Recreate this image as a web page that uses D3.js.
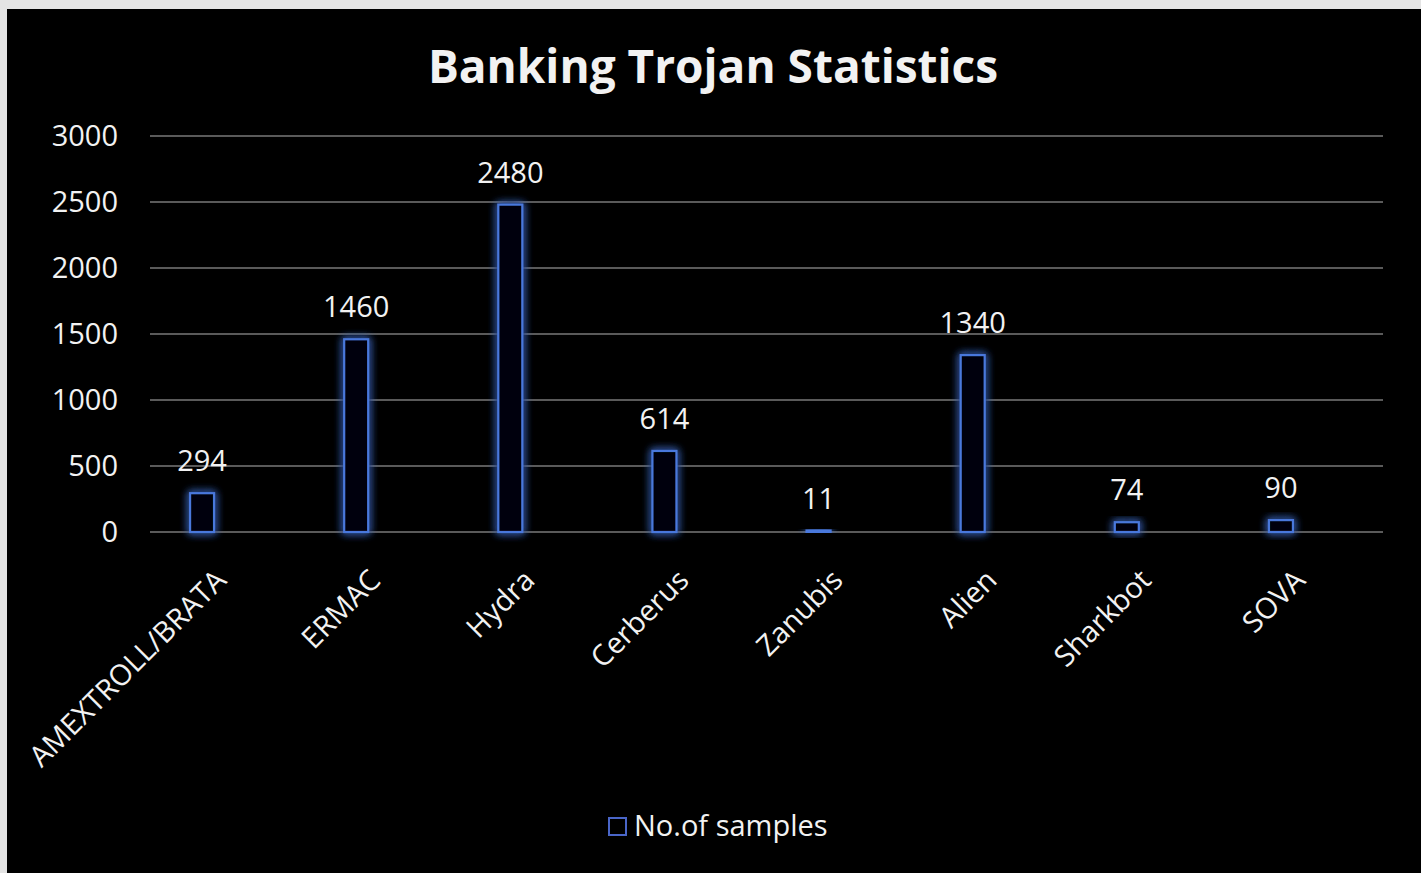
<!DOCTYPE html>
<html><head><meta charset="utf-8">
<script src="https://cdn.jsdelivr.net/npm/d3@7"></script>
<style>
html,body{margin:0;padding:0;background:#e6e6e6;}
svg{display:block;}
text{font-family:"Open Sans",sans-serif;fill:#f2f2f2;}
</style></head>
<body>
<svg id="c" width="1421" height="873"></svg>
<script>
const categories = ["AMEXTROLL/BRATA","ERMAC","Hydra","Cerberus","Zanubis","Alien","Sharkbot","SOVA"];
const values = [294,1460,2480,614,11,1340,74,90];
const yTicks = [0,500,1000,1500,2000,2500,3000];
const seriesName = "No.of samples";
const title = "Banking Trojan Statistics";

(function(){
const svg = d3.select("#c");
const W = 1421, H = 873;
svg.append("rect").attr("x",0).attr("y",0).attr("width",W).attr("height",H).attr("fill","#e4e4e4");
svg.append("rect").attr("x",7).attr("y",9).attr("width",W-7).attr("height",H-9).attr("fill","#000");

const defs = svg.append("defs");
const f = defs.append("filter").attr("id","glow").attr("x","-60%").attr("y","-60%").attr("width","220%").attr("height","220%");
f.append("feGaussianBlur").attr("in","SourceGraphic").attr("stdDeviation",4.5).attr("result","b");
const m = f.append("feMerge");
m.append("feMergeNode").attr("in","b");
m.append("feMergeNode").attr("in","b");
m.append("feMergeNode").attr("in","SourceGraphic");

const gL = 150, gR = 1383, pT = 136, pB = 532;
const x = d3.scaleBand().domain(categories).range([125,1358]).paddingInner(0).paddingOuter(0);
const y = d3.scaleLinear().domain([0,3000]).range([pB,pT]);

// gridlines
svg.append("g").selectAll("line").data(yTicks).join("line")
  .attr("x1",gL).attr("x2",gR)
  .attr("y1",d=>y(d)).attr("y2",d=>y(d))
  .attr("stroke","#5a5a5a").attr("stroke-width",2);

// y axis labels
const yAxis = d3.axisLeft(y).tickValues(yTicks).tickFormat(d3.format("d")).tickSize(0).tickPadding(32);
const gy = svg.append("g").attr("transform",`translate(${gL},0)`).call(yAxis);
gy.select(".domain").remove();
gy.selectAll("text").style("font-family","'Open Sans',sans-serif").style("font-size","29px").attr("fill","#f2f2f2").attr("dy","0.33em");

// bars
const bw = 24;
svg.append("g").selectAll("rect").data(values).join("rect")
  .attr("x",(d,i)=>x(categories[i])+x.bandwidth()/2-bw/2)
  .attr("y",d=>y(d))
  .attr("width",bw)
  .attr("height",d=>Math.max(0,pB-y(d)))
  .attr("fill","#020411")
  .attr("stroke","#4a78dc").attr("stroke-width",2.2)
  .attr("filter","url(#glow)");

// value labels
svg.append("g").selectAll("text").data(values).join("text")
  .attr("x",(d,i)=>x(categories[i])+x.bandwidth()/2)
  .attr("y",d=>y(d)-22)
  .attr("text-anchor","middle")
  .style("font-size","29px")
  .text(d=>d);

// x axis labels
const xAxis = d3.axisBottom(x).tickSize(0).tickPadding(0);
const gx = svg.append("g").attr("transform",`translate(0,${pB})`).call(xAxis);
gx.select(".domain").remove();
gx.selectAll("text")
  .style("font-family","'Open Sans',sans-serif").style("font-size","29px")
  .attr("fill","#f2f2f2")
  .attr("text-anchor","end")
  .attr("dy",null).attr("y",0)
  .attr("transform","translate(26,50) rotate(-45)");

// title
svg.append("text").attr("x",713).attr("y",83).attr("text-anchor","middle")
  .style("font-size","46px").style("font-weight","700").text(title);

// legend
svg.append("rect").attr("x",609).attr("y",818).attr("width",17).attr("height",17)
  .attr("fill","none").attr("stroke","#4a66c8").attr("stroke-width",2);
svg.append("text").attr("x",634).attr("y",836).style("font-size","29px").text(seriesName);
})();
</script>
</body></html>
